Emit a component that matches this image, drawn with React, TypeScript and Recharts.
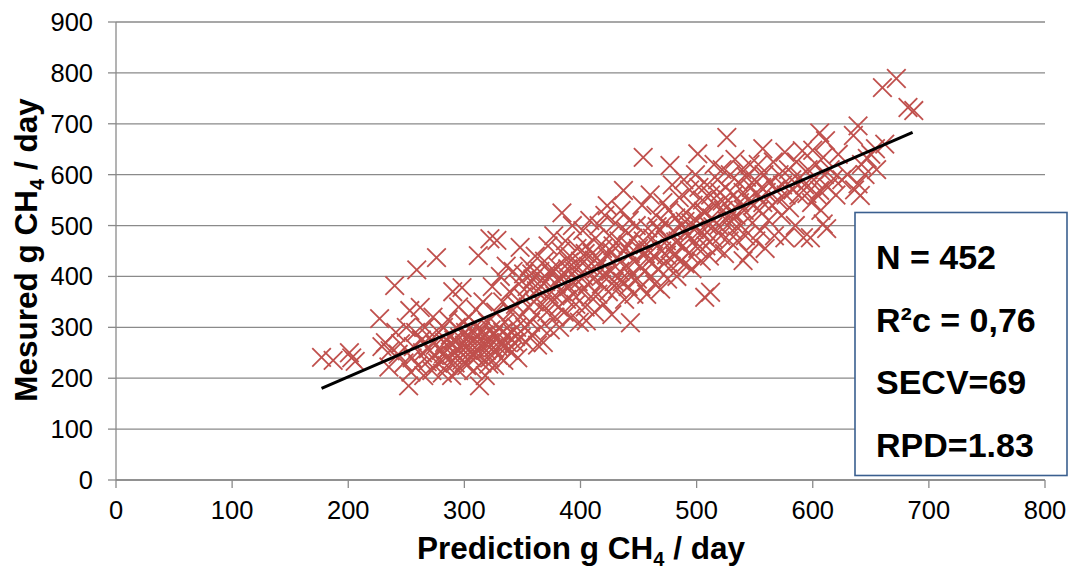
import React from "react";
import { ScatterChart, Scatter, XAxis, YAxis, CartesianGrid } from "recharts";

// Axis ticks
const xTicks = [0, 100, 200, 300, 400, 500, 600, 700, 800];
const yTicks = [0, 100, 200, 300, 400, 500, 600, 700, 800, 900];

const pointsLow: [number, number][] = [
  [177, 241], [187, 235], [201, 250], [203, 240], [206, 233],
  [227, 317], [229, 262], [232, 270], [235, 222], [236, 254], [240, 382], [241, 290], [243, 247], [245, 268], [248, 230], [250, 300],
  [252, 185], [253, 333], [254, 212], [255, 240], [256, 262], [258, 290], [259, 413], [260, 225], [262, 339], [263, 275], [264, 250], [265, 205], [266, 300], [268, 232], [269, 258],
  [270, 280], [272, 215], [273, 320], [274, 245], [275, 265], [276, 437], [277, 230], [278, 290], [280, 255], [281, 210], [282, 300], [283, 270], [284, 240], [285, 225], [286, 315], [287, 260], [288, 285], [289, 205], [290, 370], [290, 245],
  [291, 275], [292, 230], [293, 300], [294, 258], [295, 340], [295, 215], [296, 280], [297, 250], [298, 378], [298, 235], [299, 310], [300, 265], [301, 290], [302, 225], [303, 255], [304, 320], [305, 270], [306, 240], [307, 295], [308, 215], [309, 260], [310, 335],
  [311, 280], [312, 441], [312, 245], [313, 185], [313, 300], [314, 265], [315, 230], [316, 350], [317, 285], [318, 205], [319, 255], [320, 310], [321, 270], [322, 474], [322, 240], [323, 295], [324, 380], [325, 260], [326, 225], [327, 330], [328, 471], [328, 280], [329, 245],
  [296, 262], [303, 282], [308, 248], [314, 292], [318, 268], [321, 228], [325, 285], [329, 262], [333, 290], [337, 270], [341, 252], [344, 282], [282, 248], [288, 268], [300, 232],
];

const pointsMid: [number, number][] = [
  [330, 300], [331, 400], [332, 265], [333, 350], [334, 235], [335, 310], [336, 420], [337, 285], [338, 255], [339, 370], [340, 330], [341, 290], [342, 410], [343, 270], [344, 345], [345, 300], [346, 240], [347, 385], [348, 457], [348, 320], [349, 280], [350, 360],
  [351, 405], [352, 300], [353, 270], [354, 380], [355, 340], [356, 420], [357, 310], [358, 285], [359, 395], [360, 350], [361, 440], [362, 325], [363, 265], [364, 375], [365, 410], [366, 300], [367, 345], [368, 270], [369, 430], [370, 390],
  [371, 330], [372, 460], [373, 365], [374, 295], [375, 405], [376, 350], [377, 480], [378, 320], [379, 385], [380, 420], [381, 340], [382, 300], [383, 450], [384, 525], [384, 370], [385, 400], [386, 330], [387, 470], [388, 355], [389, 415], [390, 380],
  [391, 440], [392, 320], [393, 500], [394, 365], [395, 410], [396, 345], [397, 455], [398, 390], [399, 310], [400, 430], [401, 370], [402, 490], [403, 400], [404, 340], [405, 313], [405, 460], [406, 385], [407, 420], [408, 510], [409, 360], [410, 445],
  [411, 395], [412, 330], [413, 475], [414, 415], [415, 365], [416, 500], [417, 430], [418, 385], [419, 455], [420, 345], [421, 520], [422, 405], [423, 539], [423, 440], [424, 370], [425, 480], [426, 410], [427, 325], [428, 460], [429, 390], [430, 505],
  [431, 435], [432, 375], [433, 470], [434, 410], [435, 530], [436, 390], [437, 569], [437, 450], [438, 355], [439, 490], [440, 420], [441, 380], [442, 510], [443, 309], [443, 445], [444, 400], [445, 475], [446, 365], [447, 430], [448, 500], [449, 395], [450, 455],
  [358, 405], [366, 392], [374, 412], [382, 398], [390, 428], [398, 418], [404, 445], [412, 432], [419, 402], [427, 448], [434, 392], [441, 462], [362, 372], [378, 362], [394, 388],
];

const pointsHigh: [number, number][] = [
  [451, 420], [452, 380], [453, 540], [454, 634], [454, 470], [455, 410], [456, 445], [457, 365], [458, 495], [459, 430], [460, 560], [461, 400], [462, 475], [463, 440], [464, 385], [465, 520], [466, 460], [467, 415], [468, 490], [469, 375], [470, 450],
  [471, 545], [472, 425], [473, 505], [474, 470], [475, 395], [476, 530], [477, 618], [477, 455], [478, 420], [479, 580], [480, 490], [481, 440], [482, 515], [483, 400], [484, 470], [485, 555], [486, 430], [487, 500], [488, 460], [489, 590], [490, 425],
  [491, 525], [492, 480], [493, 445], [494, 570], [495, 505], [496, 415], [497, 540], [498, 470], [499, 600], [500, 510], [501, 641], [501, 455], [502, 575], [503, 490], [504, 430], [505, 550], [506, 480], [507, 359], [507, 525], [508, 460], [509, 580], [510, 500],
  [511, 440], [512, 369], [512, 560], [513, 515], [514, 475], [515, 620], [516, 540], [517, 455], [518, 590], [519, 500], [520, 565], [521, 480], [522, 610], [523, 530], [524, 445], [525, 575], [526, 673], [526, 510], [527, 550], [528, 470], [529, 600], [530, 525],
  [531, 490], [532, 560], [533, 630], [534, 520], [535, 470], [536, 585], [537, 545], [538, 500], [539, 610], [540, 431], [540, 565], [541, 530], [542, 480], [543, 595], [544, 550], [545, 445], [546, 620], [547, 575], [548, 505], [549, 540], [550, 590],
  [458, 452], [466, 498], [474, 442], [482, 468], [490, 508], [498, 492], [506, 528], [514, 498], [522, 548], [530, 508],
];

const pointsTop: [number, number][] = [
  [551, 470], [552, 560], [553, 620], [554, 530], [555, 490], [556, 575], [557, 651], [557, 545], [558, 600], [559, 455], [560, 565], [562, 510], [563, 585], [565, 540], [566, 625], [567, 480], [568, 570], [570, 550],
  [571, 600], [573, 520], [574, 580], [576, 644], [576, 476], [577, 560], [579, 610], [580, 535], [582, 590], [583, 570], [585, 500], [586, 625], [588, 560], [589, 595], [591, 647], [592, 476], [593, 580], [595, 563], [596, 610], [598, 476], [599, 545],
  [600, 648], [601, 590], [603, 620], [604, 560], [606, 682], [606, 569], [607, 530], [609, 634], [609, 503], [610, 600], [611, 667], [612, 494], [613, 575], [615, 610], [618, 592], [620, 560], [622, 640], [625, 590], [630, 600], [635, 677], [636, 570], [639, 696], [639, 582], [641, 559], [642, 620],
  [645, 600], [647, 632], [650, 640], [654, 651], [655, 610], [660, 771], [662, 660], [672, 789], [682, 732], [687, 726],
];

// Calibration trend line end points
const trendX = [177, 686];
const trendY = [180, 683];

// Statistics box lines
const statLines = ["N = 452", "R\u00B2c = 0,76", "SECV=69", "RPD=1.83"];

const FONT = "'Liberation Sans', Arial, sans-serif";
const MARK = "#C0504D";
const GRID = "#8A8A8A";

const scatterData = [...pointsLow, ...pointsMid, ...pointsHigh, ...pointsTop].map(([x, y]) => ({ x, y }));
const trendData = trendX.map((x, i) => ({ x, y: trendY[i] }));

const Cross = (props: any) => {
  const { cx, cy } = props;
  if (cx == null || cy == null) return <g />;
  const h = 9.3;
  return (
    <g stroke={MARK} strokeWidth={1.8}>
      <line x1={cx - h} y1={cy - h} x2={cx + h} y2={cy + h} />
      <line x1={cx - h} y1={cy + h} x2={cx + h} y2={cy - h} />
    </g>
  );
};

const Empty = () => <g />;

export default function App() {
  return (
    <div style={{ position: "absolute", left: 0, top: 0, width: 1070, height: 570, background: "#fff" }}>
      <ScatterChart width={1070} height={570} margin={{ top: 22, right: 25, left: 0, bottom: 0 }}>
        <CartesianGrid vertical={false} stroke={GRID} strokeWidth={1.3} />
        <XAxis
          type="number"
          dataKey="x"
          domain={[0, 800]}
          ticks={xTicks}
          interval={0}
          height={90}
          tickSize={8}
          tickMargin={13}
          stroke={GRID}
          strokeWidth={1.3}
          tick={{ fill: "#000", fontSize: 25.5, fontFamily: FONT }}
          label={{
            content: () => (
              <text x={581} y={559} textAnchor="middle" fontFamily={FONT} fontWeight="bold" fontSize={31.5} fill="#000">
                Prediction g CH
                <tspan fontSize={20} dy={7}>4</tspan>
                <tspan dy={-7}> / day</tspan>
              </text>
            ),
          }}
        />
        <YAxis
          type="number"
          dataKey="y"
          domain={[0, 900]}
          ticks={yTicks}
          interval={0}
          width={116}
          tickSize={8}
          tickMargin={15}
          stroke={GRID}
          strokeWidth={1.3}
          tick={{ fill: "#000", fontSize: 25.5, fontFamily: FONT }}
          label={{
            content: () => (
              <text
                x={37}
                y={250}
                transform="rotate(-90 37 250)"
                textAnchor="middle"
                fontFamily={FONT}
                fontWeight="bold"
                fontSize={31.5}
                fill="#000"
              >
                Mesured g CH
                <tspan fontSize={20} dy={7}>4</tspan>
                <tspan dy={-7}> / day</tspan>
              </text>
            ),
          }}
        />
        <Scatter data={scatterData} shape={Cross} isAnimationActive={false} />
        <Scatter
          data={trendData}
          shape={Empty}
          line={{ stroke: "#000", strokeWidth: 3 }}
          isAnimationActive={false}
        />
      </ScatterChart>
      <svg width={1070} height={570} style={{ position: "absolute", left: 0, top: 0, pointerEvents: "none" }}>
        <rect x={855} y={212.5} width={212} height={263} fill="#fff" stroke="#3A5F8F" strokeWidth={1.6} />
        {statLines.map((t, i) => (
          <text key={t} x={876} y={269 + i * 62.5} fontFamily={FONT} fontWeight="bold" fontSize={34} fill="#000">
            {t}
          </text>
        ))}
      </svg>
    </div>
  );
}
